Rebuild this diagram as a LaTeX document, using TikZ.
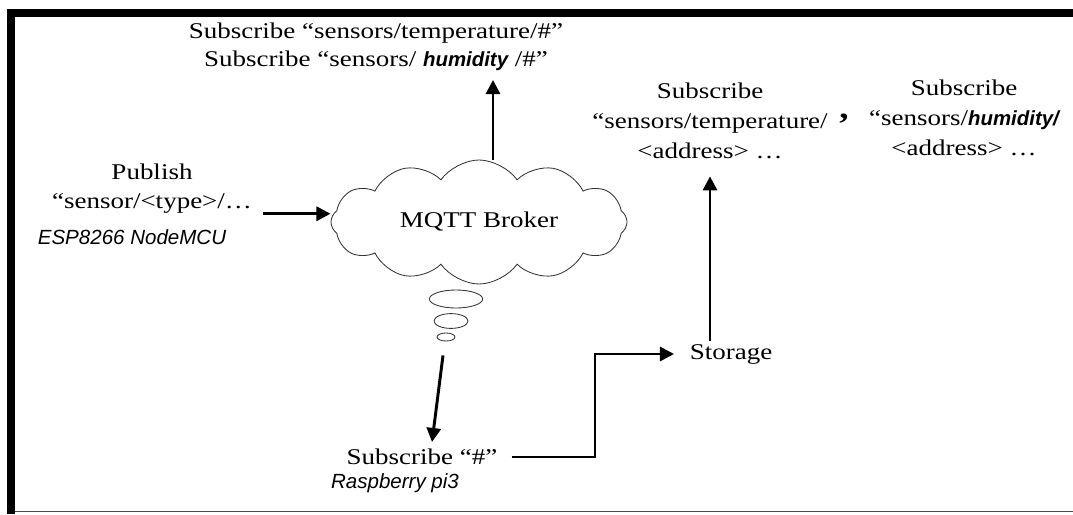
\documentclass[tikz,border=0pt]{standalone}
\usepackage{fontspec}
\setmainfont[FakeStretch=1.2]{Liberation Serif}
\setsansfont{Liberation Sans}
\usetikzlibrary{arrows.meta,shapes.symbols,shapes.geometric}

\begin{document}
\begin{tikzpicture}[x=0.025cm,y=-0.025cm]
  % Styles for texts, devices and arrows
  \tikzset{
    topic_text/.style={font=\fontsize{16}{19.5}\selectfont,align=center,inner sep=2pt},
    device_text/.style={font=\sffamily\itshape\fontsize{14.6}{17}\selectfont,inner sep=1pt},
    arr/.style={-{Triangle[length=10pt,width=10pt]},line width=2.1pt},
    bubble/.style={ellipse,draw=black!80,line width=0.6pt,inner sep=0pt}
  }
  \newcommand{\humword}[1]{{\sffamily\bfseries\itshape\fontsize{14.5}{19.5}\selectfont #1}}

  \useasboundingbox (0,0) rectangle (1073,514);

  % Frame of the figure
  \fill (7,9) rectangle (15,514);
  \fill (7,9) rectangle (1073,17);
  \fill[black!70] (15,510.5) rectangle (1073,512);

  % Broker and thought bubbles
  \node[cloud,cloud puffs=12,cloud puff arc=110,cloud ignores aspect,draw=black!80,line width=0.6pt,
        minimum width=7.4cm,minimum height=3.1cm,font=\fontsize{16}{18}\selectfont] (broker) at (479,222) {MQTT Broker};
  \node[bubble,minimum width=1.33cm,minimum height=0.45cm] (bubA) at (456,299) {};
  \node[bubble,minimum width=0.85cm,minimum height=0.37cm] (bubB) at (451,321) {};
  \node[bubble,minimum width=0.45cm,minimum height=0.2cm] (bubC) at (446,337) {};

  % Topic texts
  \node[topic_text] (topsub) at (376,47) {Subscribe “sensors/temperature/\#”\\
    Subscribe “sensors/ \humword{humidity} /\#”};
  \node[topic_text,font=\fontsize{16}{21.5}\selectfont] (tempsub) at (710,121) {Subscribe\\“sensors/temperature/\\<address> \ldots};
  \node[topic_text,font=\fontsize{22}{22}\selectfont\bfseries] (comma) at (844,119) {,};
  \node[topic_text,font=\fontsize{16}{21.5}\selectfont] (humsub) at (964,118) {Subscribe\\“sensors/\humword{humidity/}\\<address> \ldots};

  % Publisher (left)
  \node[topic_text,font=\fontsize{16}{20.5}\selectfont] (pub) at (152,189) {Publish\\“sensor/<type>/\ldots};
  \node[device_text] (esp) at (132,237) {ESP8266 NodeMCU};

  % Subscriber and storage (bottom)
  \node[topic_text] (subhash) at (422,457) {Subscribe “\#”};
  \node[device_text] (rpi) at (395,483) {Raspberry pi3};
  \node[topic_text] (storage) at (731,354) {Storage};
  \coordinate (uptip) at (493,80);
  \coordinate (bend) at (595,354);

  % Connectors
  \draw[arr] ([shift={(8,-3)}]pub.south east) -- ([shift={(0,-3)}]pub.south east -| broker.west);
  \draw[arr] (broker.north -| uptip) -- (uptip);
  \draw[arr] ([shift={(-3,14)}]bubC.south) -- ([shift={(10,-4)}]subhash.north);
  \draw[arr] ([xshift=8]subhash.east) -| (bend) -- ([xshift=-9]storage.west);
  \draw[arr,shorten >=10] (storage.north -| tempsub.south) -- (tempsub.south);
\end{tikzpicture}
\end{document}
